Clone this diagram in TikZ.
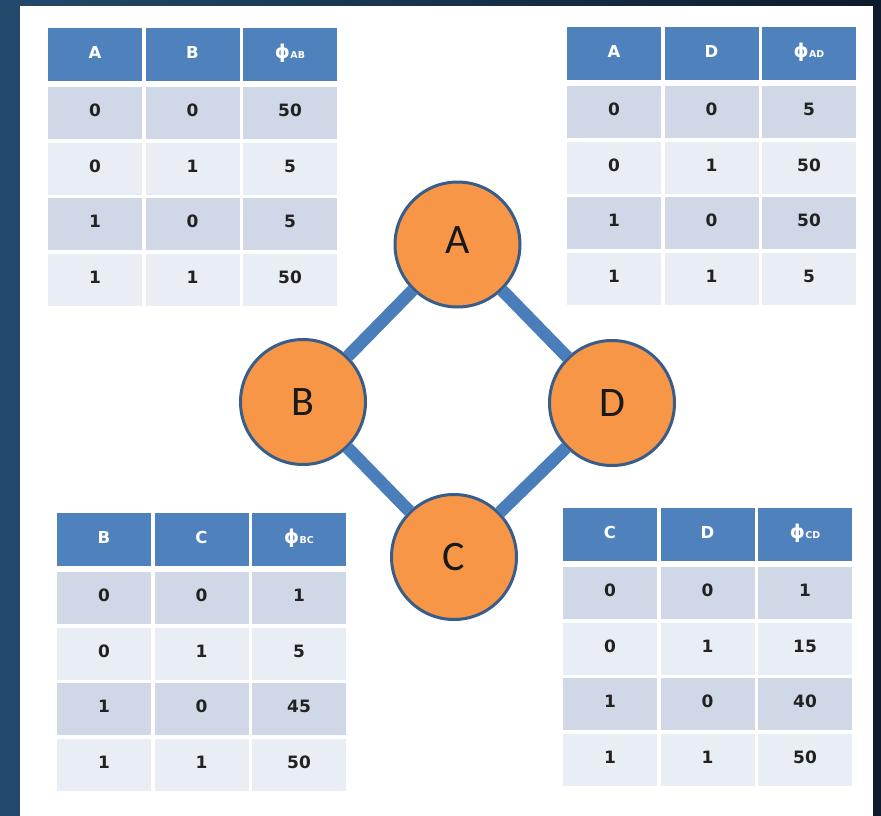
\documentclass[tikz,border=0pt]{standalone}
\usepackage{fontspec}
\newfontfamily\tabfont{DejaVu Sans}
\newfontfamily\circfont{Carlito}
\definecolor{bgleft}{HTML}{22496B}
\definecolor{bgright}{HTML}{0D1B2C}
\definecolor{hdrblue}{HTML}{4F81BD}
\definecolor{rowdark}{HTML}{D0D8E8}
\definecolor{rowlight}{HTML}{E9EDF4}
\definecolor{nodeorange}{HTML}{F79646}
\definecolor{nodeborder}{HTML}{385D8A}
\definecolor{edgeblue}{HTML}{4A7EBB}
\definecolor{celltext}{HTML}{222222}

\tikzset{
  headcell/.style={rectangle, fill=hdrblue, minimum width=94pt, minimum height=53pt,
    inner sep=0pt, text height=8.5pt, text depth=0pt, text=white,
    font=\tabfont\bfseries\fontsize{16.5}{16.5}\selectfont},
  bodycell/.style={rectangle, minimum width=94pt, minimum height=52pt,
    inner sep=0pt, text height=7pt, text depth=0pt, text=celltext,
    font=\tabfont\bfseries\fontsize{17}{17}\selectfont},
  varnode/.style={circle, fill=nodeorange, draw=nodeborder, line width=3pt,
    minimum size=125pt, inner sep=0pt, font=\circfont\fontsize{42}{42}\selectfont, text=black!90},
  edgeline/.style={draw=edgeblue, line width=12.5pt}
}

% factor symbol with a small subscript
\newcommand\phisub[1]{{\fontsize{19}{19}\selectfont ϕ}\kern0.3pt{\fontsize{9.5}{9.5}\selectfont #1}}

% #1 name, #2 left, #3 top, #4 first var, #5 second var, #6 subscript, #7 values
\newcommand\factortable[7]{%
  \node[headcell] (#1-h0) at (#2+47, #3+26.5) {#4};
  \node[headcell] (#1-h1) at (#2+97.5+47, #3+26.5) {#5};
  \node[headcell] (#1-h2) at (#2+195+47, #3+26.5) {\phisub{#6}};
  \foreach \v [count=\r from 0] in {#7} {
    \pgfmathtruncatemacro\ra{int(\r/2)}
    \pgfmathtruncatemacro\rb{mod(\r,2)}
    \ifodd\r \def\rc{rowlight}\else\def\rc{rowdark}\fi
    \node[bodycell, fill=\rc] (#1-r\r c0) at (#2+47, #3+59+\r*55.5+26) {\ra};
    \node[bodycell, fill=\rc] (#1-r\r c1) at (#2+97.5+47, #3+59+\r*55.5+26) {\rb};
    \node[bodycell, fill=\rc] (#1-r\r c2) at (#2+195+47, #3+59+\r*55.5+26) {\v};
  }%
}

\begin{document}
\begin{tikzpicture}[x=1pt, y=-1pt]
  \useasboundingbox (0,0) rectangle (881,816);
  % dark backdrop and white panel
  \fill[left color=bgleft, right color=bgright] (0,0) rectangle (881,816);
  \fill[white] (20,6) rectangle (873,816);

  % factor tables
  \factortable{ab}{48}{28}{A}{B}{AB}{50,5,5,50}
  \factortable{ad}{567}{27}{A}{D}{AD}{5,50,50,5}
  \factortable{bc}{57}{513}{B}{C}{BC}{1,5,45,50}
  \factortable{cd}{563}{508}{C}{D}{CD}{1,15,40,50}

  % Markov network
  \node[varnode, text height=17pt, text depth=0pt] (A) at (457.5,244.5) {A};
  \node[varnode] (B) at (303,402) {B};
  \node[varnode] (D) at (612,403) {D};
  \node[varnode] (C) at (454,557) {C};

  \draw[edgeline] (A) -- (B);
  \draw[edgeline] (A) -- (D);
  \draw[edgeline] (B) -- (C);
  \draw[edgeline] (D) -- (C);
\end{tikzpicture}
\end{document}
